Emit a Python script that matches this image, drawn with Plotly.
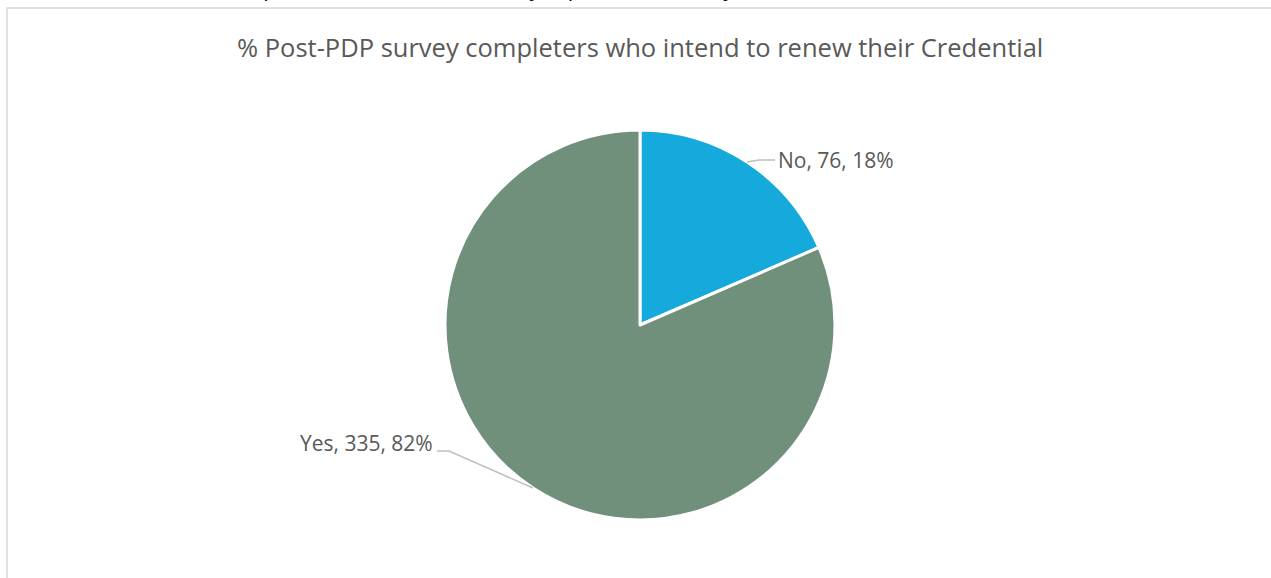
import math
import plotly.graph_objects as go

W, H = 1271, 578

# ---- data ----
labels = ["No", "Yes"]
values = [76, 335]
colors = ["#16A9DC", "#70907C"]
title_text = "% Post-PDP survey completers who intend to renew their Credential"
top_text = "82% of those who completed the Post-PDP survey reported that they intend to renew their Credential."

# ---- layout geometry (pixels) ----
cx, cy, R = 640, 325, 195

def px(x):
    return x / W

def py(y):
    return 1 - y / H

fig = go.Figure()
fig.add_trace(go.Pie(
    labels=labels, values=values, sort=False, direction="clockwise", rotation=0,
    marker=dict(colors=colors, line=dict(color="white", width=3)),
    textinfo="none", hoverinfo="label+value+percent", showlegend=False,
    domain=dict(x=[px(cx - R), px(cx + R)], y=[py(cy + R), py(cy - R)]),
))

total = sum(values)
cum = 0
shapes = []
annotations = []
label_color = "#595959"
for i, (lab, v) in enumerate(zip(labels, values)):
    mid = (cum + v / 2) / total
    cum += v
    ang = 2 * math.pi * mid
    sx = cx + R * math.sin(ang)
    sy = cy - R * math.cos(ang)
    pct = round(100 * v / total)
    txt = f"{lab}, {v}, {pct}%"
    if math.sin(ang) >= 0:
        ex, ey = sx + 28, sy - 2
        path = f"M {px(sx)} {py(sy)} L {px(sx + 12)} {py(sy - 2)} L {px(ex)} {py(ey)}"
        annotations.append(dict(x=px(ex + 1), y=py(ey), xref="paper", yref="paper",
                                text=txt, showarrow=False, xanchor="left", yanchor="middle",
                                font=dict(size=21, color=label_color, family="Open Sans")))
    else:
        ex, ey = sx - 96, sy - 37
        path = f"M {px(sx)} {py(sy)} L {px(ex + 12)} {py(ey)} L {px(ex)} {py(ey)}"
        annotations.append(dict(x=px(ex - 2), y=py(ey - 8), xref="paper", yref="paper",
                                text=txt, showarrow=False, xanchor="right", yanchor="middle",
                                font=dict(size=21, color=label_color, family="Open Sans")))
    shapes.append(dict(type="path", path=path, xref="paper", yref="paper",
                       line=dict(color="#BFBFBF", width=1.5)))

# chart border
shapes.append(dict(type="rect", xref="paper", yref="paper",
                   x0=px(7), x1=1.02, y0=-0.02, y1=py(8),
                   line=dict(color="#D9D9D9", width=1.5), fillcolor="rgba(0,0,0,0)"))

annotations.append(dict(x=px(640), y=py(47), xref="paper", yref="paper", text=title_text,
                        showarrow=False, xanchor="center", yanchor="middle",
                        font=dict(size=25.5, color=label_color, family="Open Sans")))
annotations.append(dict(x=px(29), y=py(-13), xref="paper", yref="paper", text=top_text,
                        showarrow=False, xanchor="left", yanchor="middle",
                        font=dict(size=22, color="black", family="Open Sans")))

fig.update_layout(
    width=W, height=H, margin=dict(l=0, r=0, t=0, b=0),
    paper_bgcolor="white", plot_bgcolor="white",
    shapes=shapes, annotations=annotations,
)
fig.write_html("out.html")
